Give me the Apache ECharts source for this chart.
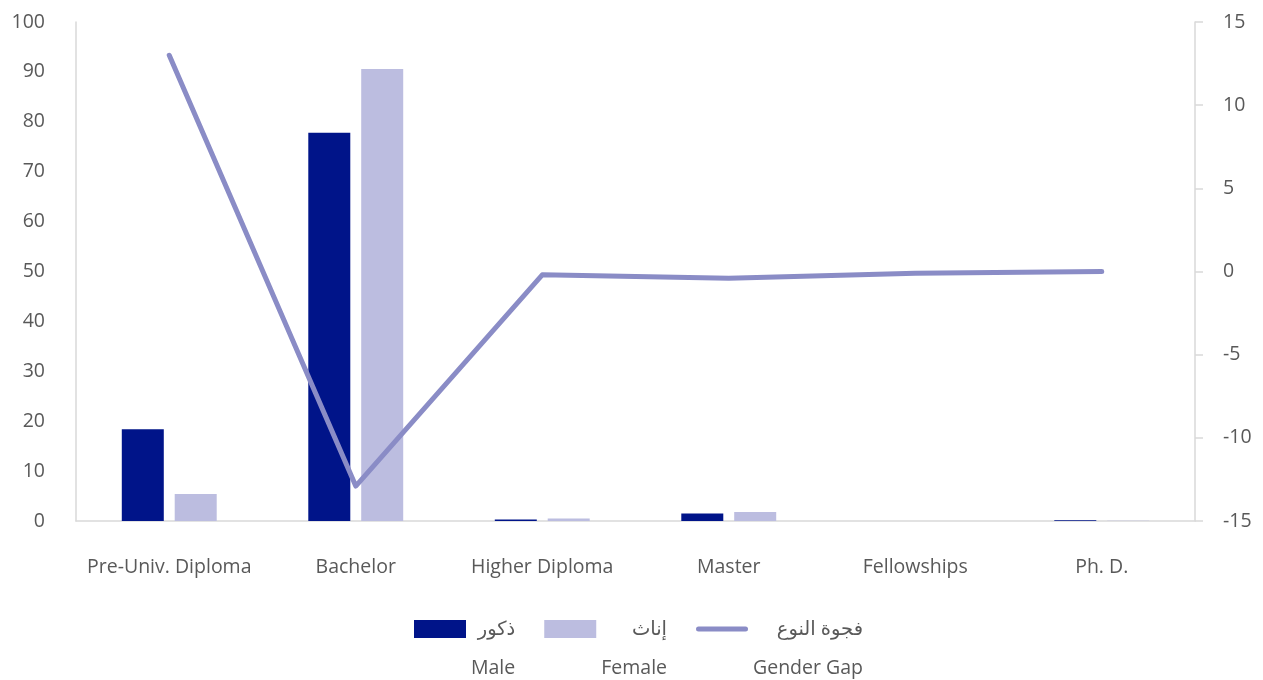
<!DOCTYPE html>
<html>
<head>
<meta charset="utf-8">
<script src="https://cdn.jsdelivr.net/npm/echarts@6/dist/echarts.min.js"></script>
<style>
html,body{margin:0;padding:0;background:#fff;}
#chart{width:1263px;height:680px;}
</style>
</head>
<body>
<div id="chart"></div>
<script>
const categories = ['Pre-Univ. Diploma', 'Bachelor', 'Higher Diploma', 'Master', 'Fellowships', 'Ph. D.'];
const maleValues = [18.4, 77.8, 0.3, 1.5, 0, 0.15];
const femaleValues = [5.4, 90.6, 0.5, 1.8, 0, 0.05];
const genderGap = [13.0, -12.9, -0.2, -0.4, -0.1, 0.0];
const leftTicks = { min: 0, max: 100, interval: 10 };
const rightTicks = { min: -15, max: 15, interval: 5 };
const seriesNames = ['Male', 'Female', 'Gender Gap'];
const arabicNames = { 'Male': 'ذكور', 'Female': 'إناث', 'Gender Gap': 'فجوة النوع' };

const FONT = '"Open Sans", "DejaVu Sans", sans-serif';
const FS = 19.5;
const TXT = '#595959';
const AXIS = '#d9d9d9';
const LINE_ICON = 'path://M0,0 M52,18 M2.5,6.5 L49.5,6.5 A2.5,2.5 0 0 1 49.5,11.5 L2.5,11.5 A2.5,2.5 0 0 1 2.5,6.5 Z';

const chart = echarts.init(document.getElementById('chart'), null, { renderer: 'canvas' });
chart.setOption({
  animation: false,
  backgroundColor: '#ffffff',
  textStyle: { fontFamily: FONT },
  grid: { left: 76, right: 68, top: 22, bottom: 159, containLabel: false },
  legend: {
    data: [
      { name: seriesNames[0], icon: 'rect' },
      { name: seriesNames[1], icon: 'rect' },
      { name: seriesNames[2], icon: LINE_ICON }
    ],
    left: 409,
    top: 575,
    itemWidth: 52,
    itemHeight: 18,
    itemGap: 29,
    selectedMode: false,
    formatter: function (name) {
      return '{sp| }\n{ar|' + arabicNames[name] + '}\n{en|' + name + '}';
    },
    textStyle: {
      fontFamily: FONT,
      fontSize: FS,
      color: TXT,
      rich: {
        sp: { fontSize: FS, lineHeight: 39, align: 'right' },
        ar: { fontSize: FS, lineHeight: 39, color: TXT, fontFamily: FONT, align: 'right' },
        en: { fontSize: FS, lineHeight: 39, color: TXT, fontFamily: FONT, align: 'right' }
      }
    }
  },
  xAxis: {
    type: 'category',
    data: categories,
    axisLine: { show: true, lineStyle: { color: AXIS, width: 1.5 } },
    axisTick: { show: false },
    axisLabel: { color: TXT, fontSize: FS, fontFamily: FONT, margin: 36, interval: 0 },
    splitLine: { show: false }
  },
  yAxis: [
    {
      type: 'value',
      min: leftTicks.min, max: leftTicks.max, interval: leftTicks.interval,
      axisLine: { show: true, lineStyle: { color: AXIS, width: 1.5 } },
      axisTick: { show: false },
      axisLabel: { color: TXT, fontSize: FS, fontFamily: FONT, margin: 31 },
      splitLine: { show: false }
    },
    {
      type: 'value',
      position: 'right',
      min: rightTicks.min, max: rightTicks.max, interval: rightTicks.interval,
      axisLine: { show: true, lineStyle: { color: AXIS, width: 1.5 } },
      axisTick: { show: true, length: 8, lineStyle: { color: AXIS, width: 1.5 } },
      axisLabel: { color: TXT, fontSize: FS, fontFamily: FONT, margin: 28 },
      splitLine: { show: false }
    }
  ],
  series: [
    {
      name: 'Male',
      type: 'bar',
      data: maleValues,
      barWidth: 42,
      barGap: '26%',
      itemStyle: { color: '#001489' }
    },
    {
      name: 'Female',
      type: 'bar',
      data: femaleValues,
      barWidth: 42,
      barGap: '26%',
      itemStyle: { color: '#bcbde0' }
    },
    {
      name: 'Gender Gap',
      type: 'line',
      yAxisIndex: 1,
      data: genderGap,
      symbol: 'none',
      z: 5,
      lineStyle: { color: '#8a8cc6', width: 5, cap: 'round', join: 'round' },
      itemStyle: { color: '#8a8cc6' }
    }
  ]
});
</script>
</body>
</html>
